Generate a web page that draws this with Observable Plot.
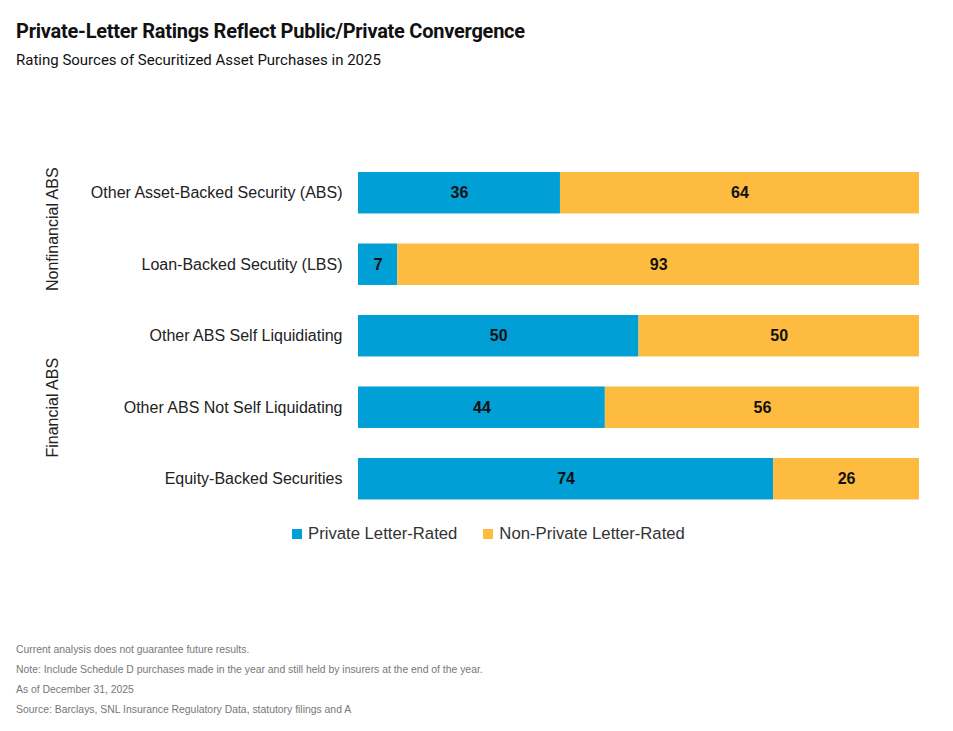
<!DOCTYPE html>
<html>
<head>
<meta charset="utf-8">
<script src="https://cdn.jsdelivr.net/npm/d3@7"></script>
<script src="https://cdn.jsdelivr.net/npm/@observablehq/plot@0.6"></script>
<style>
  body { margin: 0; background: #fff; font-family: "Liberation Sans", Arial, sans-serif; }
  #wrap { position: relative; width: 953px; height: 731px; }
  #title { position: absolute; left: 16px; top: 19px; font-family: "Roboto", sans-serif; font-weight: 700; font-size: 20px; color: #111; letter-spacing: -0.25px; white-space: nowrap; }
  #subtitle { position: absolute; left: 16px; top: 51px; font-family: "Roboto", sans-serif; font-size: 15px; color: #111; white-space: nowrap; }
  #chart { position: absolute; left: 0; top: 100px; }
  #legend { position: absolute; left: 292px; top: 524px; font-size: 16.7px; color: #333; white-space: nowrap; display: flex; align-items: center; }
  #legend .sw { display: inline-block; width: 10px; height: 10px; margin-right: 6px; }
  #legend .item { display: inline-flex; align-items: center; margin-right: 26px; }
  #footer { position: absolute; left: 16px; top: 640px; font-size: 10.4px; color: #777; line-height: 20px; }
</style>
</head>
<body>
<div id="wrap">
  <div id="title"></div>
  <div id="subtitle"></div>
  <div id="chart"></div>
  <div id="legend"></div>
  <div id="footer"></div>
</div>
<script>
const title = "Private-Letter Ratings Reflect Public/Private Convergence";
const subtitle = "Rating Sources of Securitized Asset Purchases in 2025";

const categories = [
  "Other Asset-Backed Security (ABS)",
  "Loan-Backed Secutity (LBS)",
  "Other ABS Self Liquidiating",
  "Other ABS Not Self Liquidating",
  "Equity-Backed Securities"
];
const privateRated = [36, 7, 50, 44, 74];
const nonPrivateRated = [64, 93, 50, 56, 26];
const seriesNames = ["Private Letter-Rated", "Non-Private Letter-Rated"];
const seriesColors = ["#009fd6", "#fdbb3f"];

// group labels shown to the left of the category labels
const groups = [
  {label: "Nonfinancial ABS", anchor: categories[0], offset: 36},
  {label: "Financial ABS", anchor: categories[3], offset: 0}
];

const footnotes = [
  "Current analysis does not guarantee future results.",
  "Note: Include Schedule D purchases made in the year and still held by insurers at the end of the year.",
  "As of December 31, 2025",
  "Source: Barclays, SNL Insurance Regulatory Data, statutory filings and A"
];

const rows = [];
categories.forEach((c, i) => {
  rows.push({category: c, series: seriesNames[0], value: privateRated[i]});
  rows.push({category: c, series: seriesNames[1], value: nonPrivateRated[i]});
});

document.getElementById("title").textContent = title;
document.getElementById("subtitle").textContent = subtitle;

const chart = Plot.plot({
  width: 953,
  height: 415,
  marginLeft: 358,
  marginRight: 34,
  marginTop: 64.85,
  marginBottom: 8.4,
  style: {fontFamily: "Liberation Sans, Arial, sans-serif", fontSize: "16px", color: "#222"},
  x: {domain: [0, 100], axis: null},
  y: {domain: categories, round: false, paddingInner: 0.42, paddingOuter: 0.1, label: null, tickSize: 0, tickPadding: 16},
  color: {domain: seriesNames, range: seriesColors},
  marks: [
    Plot.barX(rows, Plot.stackX({x: "value", y: "category", fill: "series", order: seriesNames})),
    Plot.text(rows, Plot.stackX({x: "value", y: "category", z: "series", text: "value", order: seriesNames, fill: "#111", fontWeight: "bold", fontSize: 16})),
    ...groups.map(g => Plot.text([g], {
      y: "anchor", text: "label", frameAnchor: "left", textAnchor: "middle", dx: -306, dy: g.offset,
      rotate: -90, fontSize: 16, fill: "#222"
    }))
  ]
});
document.getElementById("chart").appendChild(chart);

const legend = document.getElementById("legend");
seriesNames.forEach((s, i) => {
  const item = document.createElement("span");
  item.className = "item";
  const sw = document.createElement("span");
  sw.className = "sw";
  sw.style.background = seriesColors[i];
  item.appendChild(sw);
  item.appendChild(document.createTextNode(s));
  legend.appendChild(item);
});

const footer = document.getElementById("footer");
footnotes.forEach(t => {
  const d = document.createElement("div");
  d.textContent = t;
  footer.appendChild(d);
});
</script>
</body>
</html>
